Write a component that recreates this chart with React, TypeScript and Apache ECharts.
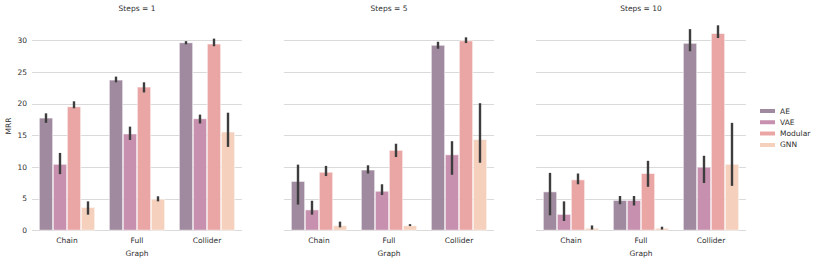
import React, { useEffect, useRef } from "react";
import * as echarts from "echarts";

const categories = ["Chain", "Full", "Collider"];
const methods = ["AE", "VAE", "Modular", "GNN"];
const colors = ["#a08a9f", "#c690ae", "#eaa6a5", "#f4d0bd"];
const panelTitles = ["Steps = 1", "Steps = 5", "Steps = 10"];
const yTicks = [0, 5, 10, 15, 20, 25, 30];

// values[panel][method][category]
const means = [
  [
    [17.8, 23.8, 29.7],
    [10.5, 15.3, 17.7],
    [19.6, 22.7, 29.5],
    [3.7, 5.0, 15.6],
  ],
  [
    [7.8, 9.6, 29.3],
    [3.3, 6.25, 12.0],
    [9.25, 12.7, 30.0],
    [0.8, 0.8, 14.4],
  ],
  [
    [6.15, 4.8, 29.6],
    [2.6, 4.8, 10.05],
    [8.05, 9.05, 31.15],
    [0.4, 0.4, 10.5],
  ],
];

const ciLow = [
  [
    [17.0, 23.4, 29.4],
    [8.9, 14.3, 16.9],
    [19.3, 21.8, 29.1],
    [2.5, 4.6, 13.2],
  ],
  [
    [4.1, 9.0, 28.7],
    [2.5, 5.6, 8.8],
    [8.6, 11.6, 29.6],
    [0.5, 0.7, 10.7],
  ],
  [
    [2.4, 4.15, 28.3],
    [1.5, 3.95, 7.5],
    [7.3, 6.9, 30.4],
    [0.15, 0.15, 7.05],
  ],
];

const ciHigh = [
  [
    [18.5, 24.3, 29.9],
    [12.25, 16.4, 18.3],
    [20.4, 23.4, 30.3],
    [4.6, 5.4, 18.6],
  ],
  [
    [10.4, 10.3, 29.8],
    [4.7, 7.3, 14.1],
    [10.2, 13.7, 30.5],
    [1.4, 1.0, 20.1],
  ],
  [
    [9.1, 5.45, 31.8],
    [4.6, 5.45, 11.8],
    [9.0, 11.0, 32.4],
    [0.8, 0.6, 17.0],
  ],
];

const gridLefts = [32, 284, 536];
const gridWidth = 210;
const yMax = 33;
const pxPerUnit = 6.333;
const zeroY = 230.5;

export default function App() {
  const ref = useRef<HTMLDivElement>(null);
  useEffect(() => {
    document.body.style.margin = "0";
    if (!ref.current) return;
    const chart = echarts.init(ref.current, null, { renderer: "svg" });
    const font = "DejaVu Sans";
    const fs = 7.5;
    const txt = "#2e2e2e";
    const gridTop = zeroY - yMax * pxPerUnit;
    const grids = gridLefts.map((l) => ({
      left: l,
      width: gridWidth,
      top: gridTop,
      height: yMax * pxPerUnit,
      outerBoundsMode: "none",
      containLabel: false,
    }));
    const xAxes = gridLefts.map((_, p) => ({
      type: "category",
      gridIndex: p,
      data: categories,
      axisLine: { show: false },
      axisTick: { show: false },
      axisLabel: { color: txt, fontSize: fs, fontFamily: font, margin: 6 },
      name: "Graph",
      nameLocation: "middle",
      nameGap: 17,
      nameTextStyle: { color: txt, fontSize: fs, fontFamily: font },
    }));
    const yAxes = gridLefts.map((_, p) => ({
      type: "value",
      gridIndex: p,
      min: 0,
      max: yMax,
      interval: 5,
      axisLine: { show: false },
      axisTick: { show: false },
      axisLabel: {
        show: p === 0,
        color: txt,
        fontSize: fs,
        fontFamily: font,
        margin: 5,
        showMaxLabel: false,
        formatter: (v: number) => (yTicks.includes(v) ? String(v) : ""),
      },
      splitLine: {
        show: true,
        showMaxLine: false,
        lineStyle: { color: "#dadada", width: 1 },
      },
      name: p === 0 ? "MRR" : "",
      nameLocation: "middle",
      nameGap: 20,
      nameRotate: 90,
      nameTextStyle: { color: txt, fontSize: fs, fontFamily: font },
    }));
    const series: any[] = [];
    for (let p = 0; p < 3; p++) {
      methods.forEach((m, i) => {
        series.push({
          type: "bar",
          name: m,
          xAxisIndex: p,
          yAxisIndex: p,
          data: means[p][i],
          barGap: "0%",
          barCategoryGap: "20%",
          itemStyle: { color: colors[i], borderColor: "#ffffff", borderWidth: 0.6 },
          emphasis: { disabled: true },
        });
      });
      methods.forEach((m, i) => {
        series.push({
          type: "custom",
          name: m + " CI",
          xAxisIndex: p,
          yAxisIndex: p,
          z: 10,
          data: categories.map((_, c) => [c, ciLow[p][i][c], ciHigh[p][i][c]]),
          encode: { x: 0, y: [1, 2] },
          renderItem: (params: any, api: any) => {
            const c = api.value(0);
            const band = api.size([1, 0])[0];
            const off = (i - 1.5) * (band * 0.8) / 4;
            const lo = api.coord([c, api.value(1)]);
            const hi = api.coord([c, api.value(2)]);
            return {
              type: "line",
              shape: { x1: lo[0] + off, y1: lo[1], x2: hi[0] + off, y2: hi[1] },
              style: { stroke: "#3d3d3d", lineWidth: 2.4 },
            };
          },
        });
      });
    }
    const titles = panelTitles.map((t, p) => ({
      text: t,
      left: gridLefts[p] + gridWidth / 2,
      top: 4,
      textAlign: "center",
      padding: 0,
      textStyle: { color: txt, fontSize: fs, fontWeight: "normal", fontFamily: font },
    }));
    chart.setOption({
      animation: false,
      title: titles,
      grid: grids,
      xAxis: xAxes,
      yAxis: yAxes,
      legend: {
        data: methods,
        orient: "vertical",
        left: 758,
        top: 107,
        padding: 0,
        itemWidth: 17,
        itemHeight: 6,
        itemGap: 3.3,
        icon: "rect",
        textStyle: { color: txt, fontSize: fs, fontFamily: font, padding: [0, 0, 0, -1] },
        selectedMode: false,
      },
      series,
    });
    return () => chart.dispose();
  }, []);
  return <div ref={ref} style={{ width: 817, height: 260 }} />;
}
